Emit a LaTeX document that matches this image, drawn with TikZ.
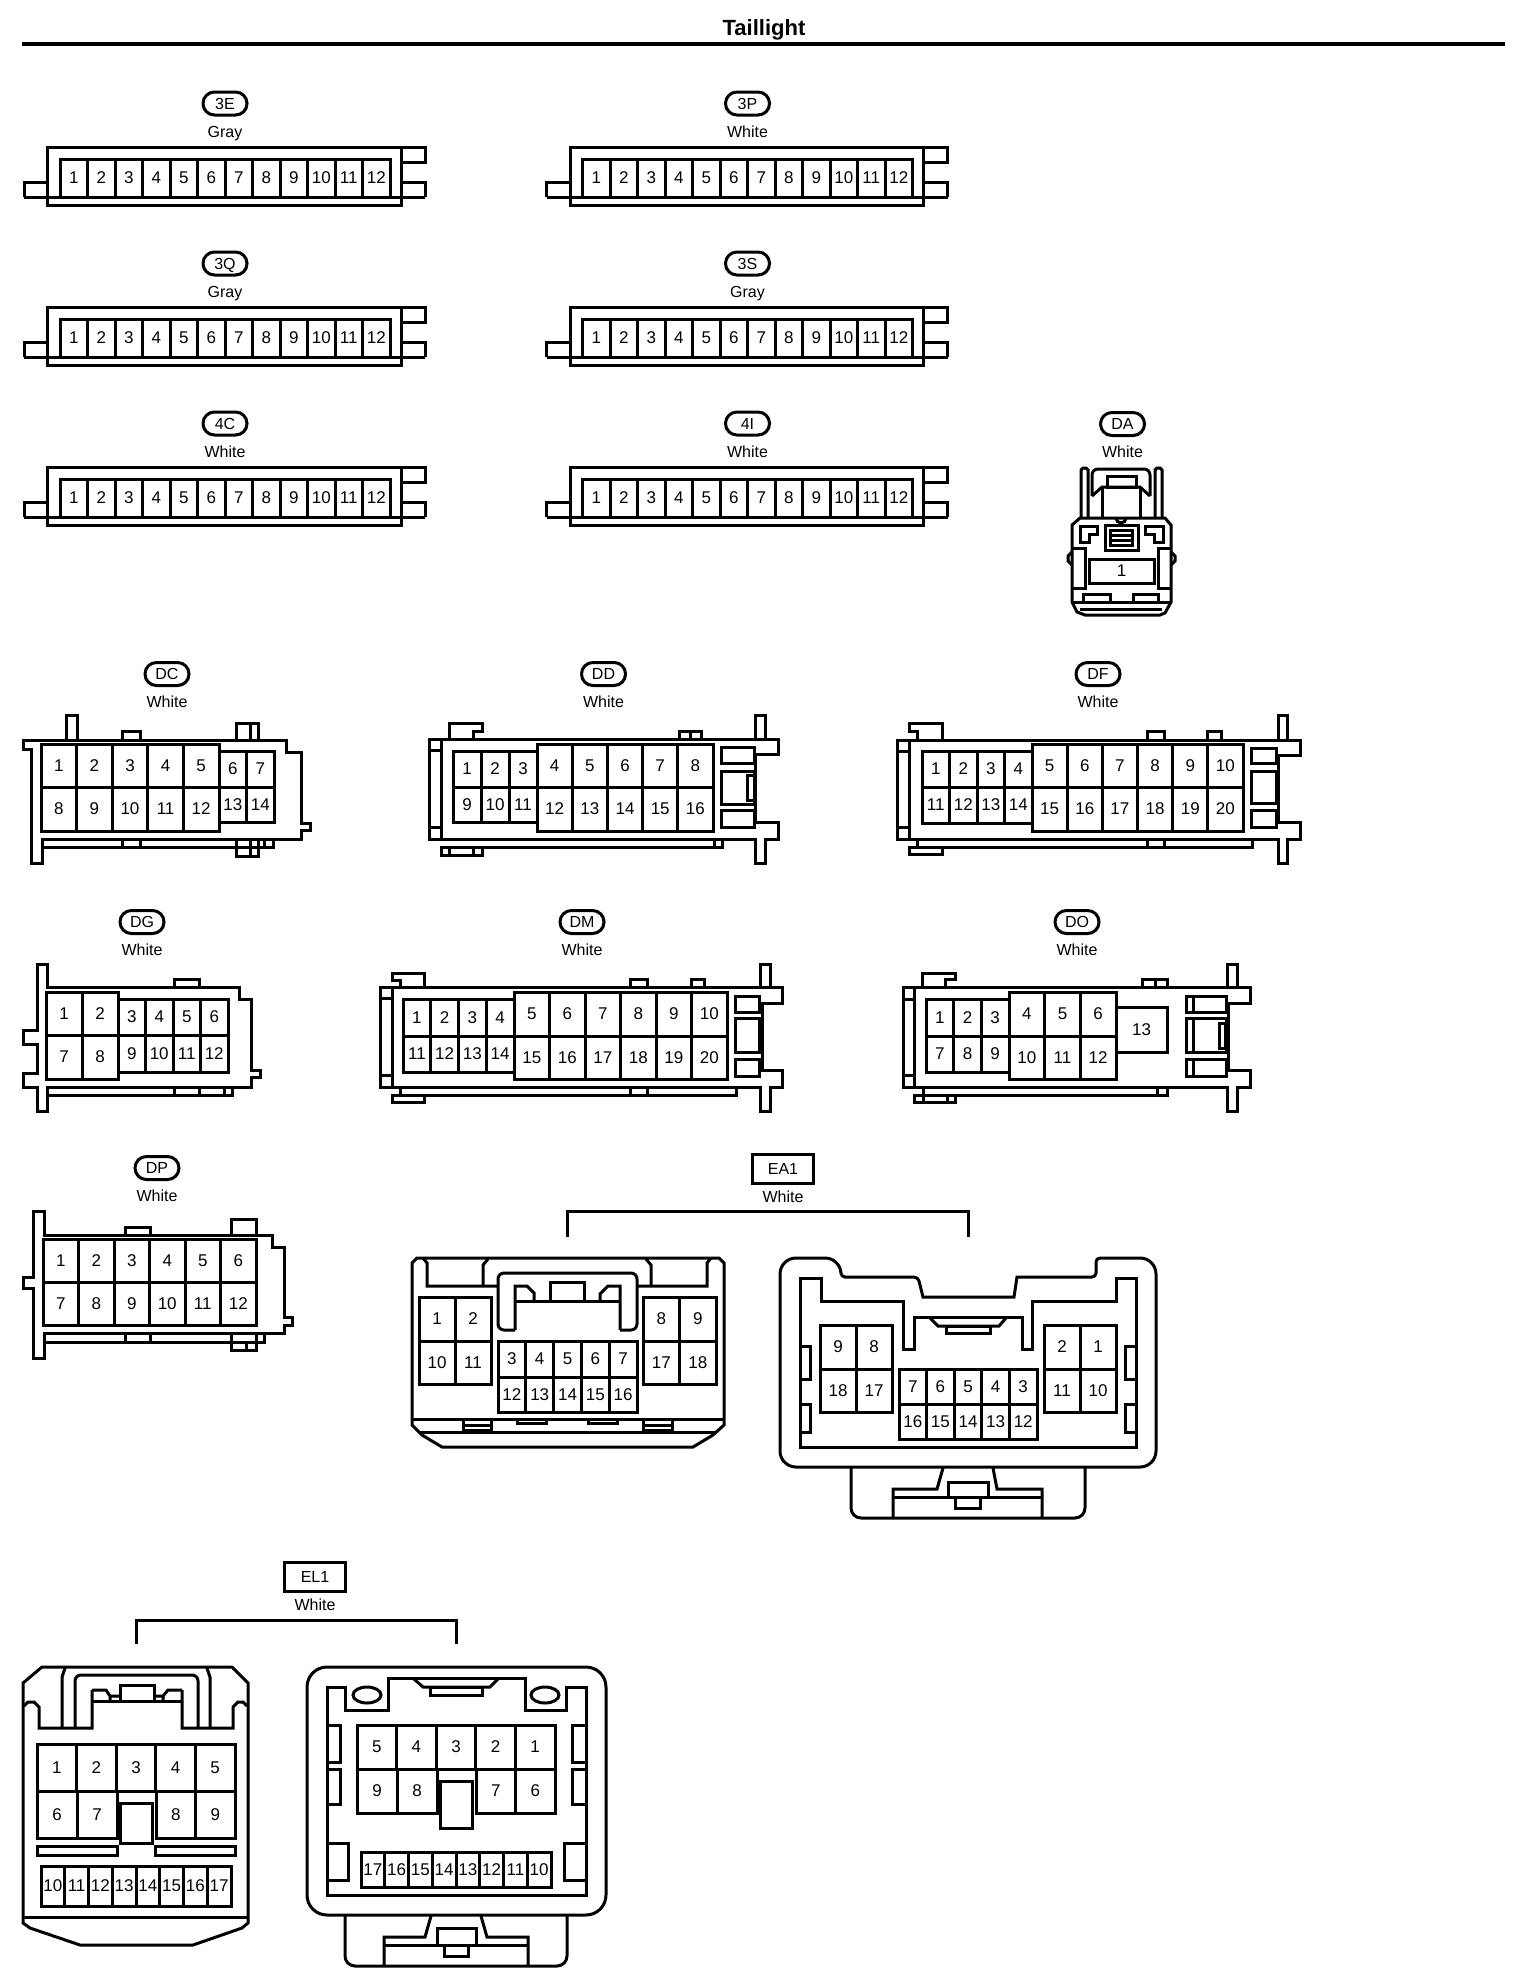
\documentclass[tikz,border=0pt]{standalone}
\usepackage{fontspec}
\setmainfont{Liberation Sans}
\usepackage{tikz}
\usetikzlibrary{positioning}

\tikzset{
    tagoval/.style={draw, rectangle, rounded corners=5.7pt, minimum width=22pt, minimum height=11.5pt, inner sep=0pt, text height=5.8pt, text depth=0pt, font=\fontsize{8}{9}\selectfont},
    tagbox/.style={draw, rectangle, minimum width=30.5pt, minimum height=14.5pt, inner sep=0pt, text height=5.8pt, text depth=0pt, font=\fontsize{8}{9}\selectfont},
    colourtext/.style={inner sep=0pt, text height=5.8pt, text depth=0pt, font=\fontsize{8}{9}\selectfont},
    titletext/.style={inner sep=0pt, font=\bfseries\fontsize{11}{13}\selectfont},
    pinbox/.style={draw, rectangle, inner sep=0pt, font=\fontsize{8.5}{10}\selectfont}
}

% one row of pins: name, x left, x right, y top, y bottom, count, numbers
\newcommand{\pinrow}[7]{
    \foreach \num [count=\k] in {#7} {
        \pgfmathsetmacro{\pinw}{(#3-#2)/#6}
        \pgfmathsetmacro{\pinx}{#2+(\k-0.5)*\pinw}
        \pgfmathsetmacro{\piny}{(#4+#5)/2}
        \pgfmathsetmacro{\pinwpt}{\pinw*0.5}
        \pgfmathsetmacro{\pinhpt}{(#5-#4)*0.5}
        \node[pinbox, minimum width=\pinwpt pt, minimum height=\pinhpt pt] (#1-\num) at (\pinx,\piny) {\num};
    }
}

% oval tag with colour under it: name, x, y, text, colour
\newcommand{\ovaltag}[5]{
    \node[tagoval] (#1) at (#2,#3) {#4};
    \node[colourtext] (#1-colour) at (#2,#3+28) {#5};
}

\begin{document}
\begin{tikzpicture}[x=0.5pt, y=-0.5pt, line width=1.5pt]
    \useasboundingbox (0,0) rectangle (1536,1986);
    \fill[white] (0,0) rectangle (1536,1986);

    % Title and rule
    \node[titletext] (title) at (764,30) {Taillight};
    \draw[line width=2pt] (22,44) -- (1505,44);

    % Straight 12 pin connectors
    \foreach \cname/\ctext/\ccolour/\dx/\dy in {
        c3e/3E/Gray/0/0, c3q/3Q/Gray/0/160, c4c/4C/White/0/320,
        c3p/3P/White/522.5/0, c3s/3S/Gray/522.5/160, c4i/4I/White/522.5/320} {
        \begin{scope}[shift={(\dx,\dy)}]
            \ovaltag{\cname}{225}{103.5}{\ctext}{\ccolour}
            \draw (47.5,147) rectangle (401,205);
            \draw (24,197) -- (24,182) -- (47.5,182);
            \draw (401,147) -- (425,147) -- (425,162) -- (401,162);
            \draw (401,182) -- (425,182) -- (425,197);
            \draw (24,197) -- (425,197);
            \pinrow{\cname}{60}{390}{159}{197}{12}{1,2,3,4,5,6,7,8,9,10,11,12}
        \end{scope}
    }

    % DA - single pin
    \ovaltag{da}{1122.5}{424}{DA}{White}
    \draw (1072,525) -- (1080,518) -- (1165,518) -- (1171,525) -- (1171,602) -- (1165,613) -- (1160,615) -- (1085,615) -- (1077,612) -- (1072,602) -- cycle;
    \draw (1081,518) -- (1081,470) -- (1083,468) -- (1086,468) -- (1088,470) -- (1088,518);
    \draw (1155,518) -- (1155,470) -- (1157,468) -- (1160,468) -- (1162,470) -- (1162,518);
    \draw[rounded corners=3pt] (1092,496) -- (1092,469) -- (1150,469) -- (1150,496);
    \draw (1092,496) -- (1102,487) -- (1140,487) -- (1150,496);
    \draw (1102,487) -- (1102,518) (1140,487) -- (1140,518);
    \draw (1107,476) rectangle (1136,487);
    \draw (1116,518) arc (180:0:5);
    \draw (1080,526) -- (1097,526) -- (1097,534) -- (1089,534) -- (1089,542) -- (1080,542) -- cycle;
    \draw (1163,526) -- (1145,526) -- (1145,534) -- (1154,534) -- (1154,542) -- (1163,542) -- cycle;
    \draw (1105,525) rectangle (1138,550);
    \draw (1110,530) rectangle (1132,545);
    \draw (1110,535) -- (1132,535) (1110,540) -- (1132,540);
    \draw (1072,548) -- (1085,548) -- (1085,588) -- (1072,588);
    \draw (1171,548) -- (1158,548) -- (1158,588) -- (1171,588);
    \draw (1072,552) -- (1068,556) -- (1068,561) -- (1072,565);
    \draw (1171,552) -- (1175,556) -- (1175,561) -- (1171,565);
    \draw (1072,602) -- (1171,602) (1080,609) -- (1162,609);
    \draw (1083,602) -- (1083,594) -- (1110,594) -- (1110,602);
    \draw (1133,602) -- (1133,594) -- (1158,594) -- (1158,602);
    \pinrow{da}{1089}{1154}{559}{583}{1}{1}

    % DC
    \ovaltag{dc}{167}{674}{DC}{White}
    \draw (23,740) -- (286,740) -- (286,752) -- (301,752) -- (301,823) -- (310,823) -- (310,830) -- (301,830) -- (301,839) -- (42,839) -- (42,863) -- (31,863) -- (31,749) -- (23,749) -- cycle;
    \draw (66,740) -- (66,715) -- (77,715) -- (77,740);
    \draw (122,740) -- (122,731) -- (140,731) -- (140,740);
    \draw (236,740) -- (236,723) -- (258,723) -- (258,740) (250,723) -- (250,740);
    \draw (42,847) -- (273,847) -- (273,839);
    \draw (122,839) -- (122,847) (140,839) -- (140,847) (264,839) -- (264,847);
    \draw (236,839) -- (236,856) -- (258,856) -- (258,839) (250,839) -- (250,856);
    \pinrow{dc-t}{41}{219}{744}{787}{5}{1,2,3,4,5}
    \pinrow{dc-b}{41}{219}{787}{831}{5}{8,9,10,11,12}
    \pinrow{dc-t}{219}{274}{751}{787}{2}{6,7}
    \pinrow{dc-b}{219}{274}{787}{822}{2}{13,14}

    % DD
    \ovaltag{dd}{603.5}{674}{DD}{White}
    \draw (429,739) -- (778,739) -- (778,754) -- (755,754) -- (755,822) -- (778,822) -- (778,839) -- (765,839) -- (765,863) -- (755,863) -- (755,839) -- (429,839) -- cycle;
    \draw (755,739) -- (755,715) -- (765,715) -- (765,739);
    \draw (441,739) -- (441,839) (429,750) -- (441,750) (429,827) -- (441,827);
    \draw (449,739) -- (449,723) -- (482,723) -- (482,731) -- (473,731) -- (473,739);
    \draw (679,739) -- (679,731) -- (701,731) -- (701,739) (690,731) -- (690,739);
    \draw (441,847) -- (722,847) -- (722,839) (714,839) -- (714,847);
    \draw (441,847) rectangle (482,855);
    \draw (449,847) -- (449,855) (473,847) -- (473,855);
    \draw (721,747) rectangle (754,763);
    \draw (721,771) rectangle (754,804);
    \draw (721,810) rectangle (754,827);
    \draw (747,775) rectangle (754,800);
    \pinrow{dd-t}{453}{537}{751}{787}{3}{1,2,3}
    \pinrow{dd-b}{453}{537}{787}{822}{3}{9,10,11}
    \pinrow{dd-t}{537}{713}{744}{787}{5}{4,5,6,7,8}
    \pinrow{dd-b}{537}{713}{787}{831}{5}{12,13,14,15,16}

    % DF
    \ovaltag{df}{1098}{674}{DF}{White}
    \draw (897,740) -- (1300,740) -- (1300,755) -- (1278,755) -- (1278,822) -- (1300,822) -- (1300,839) -- (1287,839) -- (1287,863) -- (1278,863) -- (1278,839) -- (897,839) -- cycle;
    \draw (1278,740) -- (1278,715) -- (1287,715) -- (1287,740);
    \draw (909,740) -- (909,839) (897,751) -- (909,751) (897,827) -- (909,827);
    \draw (917,740) -- (917,731) -- (909,731) -- (909,723) -- (942,723) -- (942,740);
    \draw (1147,740) -- (1147,731) -- (1164,731) -- (1164,740);
    \draw (1207,740) -- (1207,731) -- (1221,731) -- (1221,740);
    \draw (917,847) -- (1252,847) -- (1252,839);
    \draw (917,839) -- (917,847) (1147,839) -- (1147,847) (1164,839) -- (1164,847);
    \draw (909,847) rectangle (942,854);
    \draw (1251,748) rectangle (1276,763);
    \draw (1251,771) rectangle (1276,803);
    \draw (1251,810) rectangle (1276,827);
    \pinrow{df-t}{922}{1032}{751}{787}{4}{1,2,3,4}
    \pinrow{df-b}{922}{1032}{787}{823}{4}{11,12,13,14}
    \pinrow{df-t}{1032}{1243}{744}{787}{6}{5,6,7,8,9,10}
    \pinrow{df-b}{1032}{1243}{787}{831}{6}{15,16,17,18,19,20}

    % DG
    \ovaltag{dg}{142}{922}{DG}{White}
    \draw (37,964) -- (47,964) -- (47,987) -- (239,987) -- (239,999) -- (251,999) -- (251,1070) -- (260,1070) -- (260,1077) -- (251,1077) -- (251,1087) -- (47,1087) -- (47,1111) -- (37,1111) -- (37,1087) -- (23,1087) -- (23,1073) -- (37,1073) -- (37,1044) -- (23,1044) -- (23,1030) -- (37,1030) -- cycle;
    \draw (174,987) -- (174,979) -- (199,979) -- (199,987);
    \draw (47,1095) -- (232,1095) -- (232,1087);
    \draw (174,1087) -- (174,1095) (199,1087) -- (199,1095) (224,1087) -- (224,1095);
    \pinrow{dg-t}{46}{118}{992}{1035}{2}{1,2}
    \pinrow{dg-b}{46}{118}{1035}{1079}{2}{7,8}
    \pinrow{dg-t}{118}{228}{999}{1035}{4}{3,4,5,6}
    \pinrow{dg-b}{118}{228}{1035}{1072}{4}{9,10,11,12}

    % DM
    \ovaltag{dm}{582}{922}{DM}{White}
    \draw (380,987) -- (782,987) -- (782,1003) -- (762,1003) -- (762,1070) -- (782,1070) -- (782,1087) -- (770,1087) -- (770,1111) -- (760,1111) -- (760,1087) -- (380,1087) -- cycle;
    \draw (760,987) -- (760,964) -- (770,964) -- (770,987);
    \draw (392,987) -- (392,1087) (380,998) -- (392,998) (380,1075) -- (392,1075);
    \draw (400,987) -- (400,980) -- (392,980) -- (392,973) -- (424,973) -- (424,987);
    \draw (630,987) -- (630,979) -- (647,979) -- (647,987);
    \draw (691,987) -- (691,979) -- (704,979) -- (704,987);
    \draw (400,1095) -- (736,1095) -- (736,1087);
    \draw (400,1087) -- (400,1095) (630,1087) -- (630,1095) (647,1087) -- (647,1095);
    \draw (392,1095) rectangle (424,1102);
    \draw (735,996) rectangle (759,1012);
    \draw (735,1018) rectangle (759,1052);
    \draw (735,1059) rectangle (759,1076);
    \pinrow{dm-t}{403}{514}{999}{1036}{4}{1,2,3,4}
    \pinrow{dm-b}{403}{514}{1036}{1072}{4}{11,12,13,14}
    \pinrow{dm-t}{514}{727}{992}{1036}{6}{5,6,7,8,9,10}
    \pinrow{dm-b}{514}{727}{1036}{1079}{6}{15,16,17,18,19,20}

    % DO
    \ovaltag{do}{1077}{922}{DO}{White}
    \draw (903,987) -- (1250,987) -- (1250,1003) -- (1228,1003) -- (1228,1070) -- (1250,1070) -- (1250,1087) -- (1237,1087) -- (1237,1111) -- (1227,1111) -- (1227,1087) -- (903,1087) -- cycle;
    \draw (1227,987) -- (1227,964) -- (1237,964) -- (1237,987);
    \draw (914,987) -- (914,1087) (903,999) -- (914,999) (903,1075) -- (914,1075);
    \draw (922,987) -- (922,973) -- (955,973) -- (955,979) -- (945,979) -- (945,987);
    \draw (1142,987) -- (1142,979) -- (1167,979) -- (1167,987) (1155,979) -- (1155,987);
    \draw (923,1095) -- (1167,1095) -- (1167,1087);
    \draw (923,1087) -- (923,1095) (1157,1087) -- (1157,1095);
    \draw (914,1095) rectangle (955,1102);
    \draw (923,1095) -- (923,1102) (947,1095) -- (947,1102);
    \draw (1186,996) rectangle (1226,1012);
    \draw (1186,1018) rectangle (1226,1052);
    \draw (1186,1059) rectangle (1226,1076);
    \draw (1193,996) -- (1193,1012) (1193,1018) -- (1193,1052) (1193,1059) -- (1193,1076);
    \draw (1219,1023) rectangle (1225,1048);
    \pinrow{do-t}{926}{1009}{999}{1036}{3}{1,2,3}
    \pinrow{do-b}{926}{1009}{1036}{1072}{3}{7,8,9}
    \pinrow{do-t}{1009}{1116}{992}{1036}{3}{4,5,6}
    \pinrow{do-b}{1009}{1116}{1036}{1079}{3}{10,11,12}
    \pinrow{do-m}{1116}{1167}{1007}{1052}{1}{13}

    % DP
    \ovaltag{dp}{157}{1168}{DP}{White}
    \draw (33,1211) -- (44,1211) -- (44,1235) -- (272,1235) -- (272,1247) -- (284,1247) -- (284,1317) -- (292,1317) -- (292,1325) -- (284,1325) -- (284,1333) -- (44,1333) -- (44,1358) -- (33,1358) -- (33,1288) -- (23,1288) -- (23,1277) -- (33,1277) -- cycle;
    \draw (125,1235) -- (125,1227) -- (150,1227) -- (150,1235);
    \draw (231,1235) -- (231,1219) -- (256,1219) -- (256,1235);
    \draw (44,1342) -- (264,1342) -- (264,1333);
    \draw (125,1333) -- (125,1342) (150,1333) -- (150,1342);
    \draw (231,1333) -- (231,1350) -- (256,1350) -- (256,1333) (246,1342) -- (246,1350);
    \pinrow{dp-t}{43}{256}{1239}{1282}{6}{1,2,3,4,5,6}
    \pinrow{dp-b}{43}{256}{1282}{1325}{6}{7,8,9,10,11,12}

    % EA1 - header and bracket
    \node[tagbox] (ea) at (783,1169) {EA1};
    \node[colourtext] (ea-colour) at (783,1197) {White};
    \coordinate (ea-left) at (567,1237);
    \coordinate (ea-right) at (968,1237);
    \draw (ea-left) -- (567,1211) -- (968,1211) -- (ea-right);

    % EA1 - left side
    \draw (417,1258) -- (719,1258) -- (724,1263) -- (724,1425) -- (713,1435) -- (693,1447) -- (442,1447) -- (422,1435) -- (412,1425) -- (412,1263) -- cycle;
    \draw (412,1419) -- (724,1419) (419,1432) -- (717,1432);
    \draw (423,1258) -- (427,1263) -- (427,1286) -- (497,1286);
    \draw (483,1286) -- (483,1265) -- (488,1259);
    \draw (711,1258) -- (707,1263) -- (707,1286) -- (637,1286);
    \draw (651,1286) -- (651,1265) -- (646,1259);
    \draw[rounded corners=3pt] (515,1330) -- (498,1330) -- (498,1273) -- (637,1273) -- (637,1330) -- (620,1330);
    \draw (515,1330) -- (515,1286) -- (527,1286) -- (534,1293) -- (534,1301);
    \draw (620,1330) -- (620,1286) -- (608,1286) -- (600,1294) -- (600,1301);
    \draw (515,1301) -- (620,1301);
    \draw (550,1301) -- (550,1282) -- (584,1282) -- (584,1301);
    \draw (463,1419) rectangle (491,1430) (463,1425) -- (491,1425);
    \draw (643,1419) rectangle (672,1430) (643,1425) -- (672,1425);
    \draw (517,1419) rectangle (546,1423);
    \draw (588,1419) rectangle (617,1423);
    \pinrow{ea1-t}{419}{491}{1297}{1341}{2}{1,2}
    \pinrow{ea1-b}{419}{491}{1341}{1384}{2}{10,11}
    \pinrow{ea1-t}{643}{716}{1297}{1341}{2}{8,9}
    \pinrow{ea1-b}{643}{716}{1341}{1384}{2}{17,18}
    \pinrow{ea1-t}{498}{637}{1341}{1377}{5}{3,4,5,6,7}
    \pinrow{ea1-b}{498}{637}{1377}{1412}{5}{12,13,14,15,16}

    % EA1 - right side
    \draw[rounded corners=8pt] (780,1360) -- (780,1258) -- (841,1258) [rounded corners=2pt] -- (841,1277) -- (918,1277) [sharp corners] -- (923,1297) -- (1014,1297) -- (1017,1277) [rounded corners=2pt] -- (1096,1277) -- (1096,1258) [rounded corners=8pt] -- (1156,1258) -- (1156,1467) -- (780,1467) -- cycle;
    \draw (800,1278) -- (821,1278) -- (821,1301) -- (903,1301) -- (903,1349) -- (914,1349) -- (914,1317) -- (1022,1317) -- (1022,1349) -- (1032,1349) -- (1032,1301) -- (1116,1301) -- (1116,1278) -- (1136,1278) -- (1136,1447) -- (800,1447) -- cycle;
    \draw (930,1318) -- (938,1326) -- (999,1326) -- (1006,1318);
    \draw (946,1326) rectangle (990,1333);
    \draw (800,1346) -- (810,1346) -- (810,1379) -- (800,1379);
    \draw (800,1404) -- (810,1404) -- (810,1432) -- (800,1432);
    \draw (1136,1346) -- (1125,1346) -- (1125,1379) -- (1136,1379);
    \draw (1136,1404) -- (1125,1404) -- (1125,1432) -- (1136,1432);
    \draw[rounded corners=5pt] (851,1468) -- (851,1518) -- (1085,1518) -- (1085,1468);
    \draw (893,1518) -- (893,1489) -- (937,1489) -- (943,1468);
    \draw (1042,1518) -- (1042,1489) -- (997,1489) -- (993,1468);
    \draw (893,1497) -- (1042,1497);
    \draw (948,1482) rectangle (988,1497);
    \draw (955,1497) rectangle (980,1508);
    \pinrow{ea2-t}{820}{892}{1325}{1369}{2}{9,8}
    \pinrow{ea2-b}{820}{892}{1369}{1412}{2}{18,17}
    \pinrow{ea2-t}{1044}{1116}{1325}{1369}{2}{2,1}
    \pinrow{ea2-b}{1044}{1116}{1369}{1412}{2}{11,10}
    \pinrow{ea2-t}{899}{1037}{1369}{1404}{5}{7,6,5,4,3}
    \pinrow{ea2-b}{899}{1037}{1404}{1439}{5}{16,15,14,13,12}

    % EL1 - header and bracket
    \node[tagbox] (el) at (315,1577) {EL1};
    \node[colourtext] (el-colour) at (315,1605) {White};
    \coordinate (el-left) at (136,1644);
    \coordinate (el-right) at (456,1644);
    \draw (el-left) -- (136,1620) -- (456,1620) -- (el-right);

    % EL1 - left side
    \draw (23,1683) -- (42,1667) -- (232,1667) -- (248,1683) -- (248,1923) -- (242,1928) -- (193,1945) -- (80,1945) -- (30,1928) -- (23,1923) -- cycle;
    \draw (23,1917) -- (248,1917);
    \draw (24,1706) -- (28,1702) -- (34,1702) -- (39,1707) -- (39,1728) -- (92,1728) -- (92,1690);
    \draw (247,1706) -- (243,1702) -- (238,1702) -- (233,1707) -- (233,1728) -- (182,1728) -- (182,1690);
    \draw (62,1728) -- (62,1677) -- (65,1668);
    \draw (210,1728) -- (210,1677) -- (207,1668);
    \draw[rounded corners=3pt] (75,1728) -- (75,1675) -- (198,1675) -- (198,1728);
    \draw (92,1690) -- (106,1690) -- (110,1696) -- (120,1696) (110,1696) -- (110,1701);
    \draw (182,1690) -- (168,1690) -- (163,1696) -- (154,1696) (163,1696) -- (163,1701);
    \draw (120,1701) -- (120,1685) -- (154,1685) -- (154,1701);
    \draw (92,1701) -- (182,1701);
    \draw (37,1846) rectangle (117,1855);
    \draw (155,1846) rectangle (235,1855);
    \draw (120,1803) rectangle (152,1843);
    \pinrow{el1-t}{37}{235}{1744}{1791}{5}{1,2,3,4,5}
    \pinrow{el1-m}{37}{117}{1791}{1838}{2}{6,7}
    \pinrow{el1-m}{156}{235}{1791}{1838}{2}{8,9}
    \pinrow{el1-b}{41}{231}{1866}{1906}{8}{10,11,12,13,14,15,16,17}

    % EL1 - right side
    \draw[rounded corners=10pt] (307,1667) rectangle (606,1915);
    \draw (327,1687) -- (345,1687) -- (345,1710) -- (388,1710) -- (388,1678) -- (525,1678) -- (525,1710) -- (566,1710) -- (566,1687) -- (586,1687) -- (586,1895) -- (327,1895) -- cycle;
    \draw (367,1695) ellipse (14 and 8);
    \draw (545,1695) ellipse (14 and 8);
    \draw (414,1679) -- (423,1687) -- (490,1687) -- (498,1679);
    \draw (430,1687) rectangle (482,1695);
    \draw (327,1725) -- (340,1725) -- (340,1762) -- (327,1762);
    \draw (327,1769) -- (340,1769) -- (340,1804) -- (327,1804);
    \draw (586,1725) -- (572,1725) -- (572,1762) -- (586,1762);
    \draw (586,1769) -- (572,1769) -- (572,1804) -- (586,1804);
    \draw (327,1843) -- (348,1843) -- (348,1880) -- (327,1880);
    \draw (586,1843) -- (564,1843) -- (564,1880) -- (586,1880);
    \draw[rounded corners=5pt] (345,1916) -- (345,1966) -- (567,1966) -- (567,1916);
    \draw (384,1966) -- (384,1937) -- (425,1937) -- (431,1916);
    \draw (528,1966) -- (528,1937) -- (487,1937) -- (481,1916);
    \draw (384,1945) -- (528,1945);
    \draw (437,1928) rectangle (476,1945);
    \draw (444,1945) rectangle (468,1956);
    \pinrow{el2-t}{357}{555}{1725}{1769}{5}{5,4,3,2,1}
    \pinrow{el2-m}{357}{437}{1769}{1813}{2}{9,8}
    \pinrow{el2-m}{476}{555}{1769}{1813}{2}{7,6}
    \draw (440,1781) rectangle (472,1828);
    \pinrow{el2-b}{361}{551}{1852}{1887}{8}{17,16,15,14,13,12,11,10}
\end{tikzpicture}
\end{document}
